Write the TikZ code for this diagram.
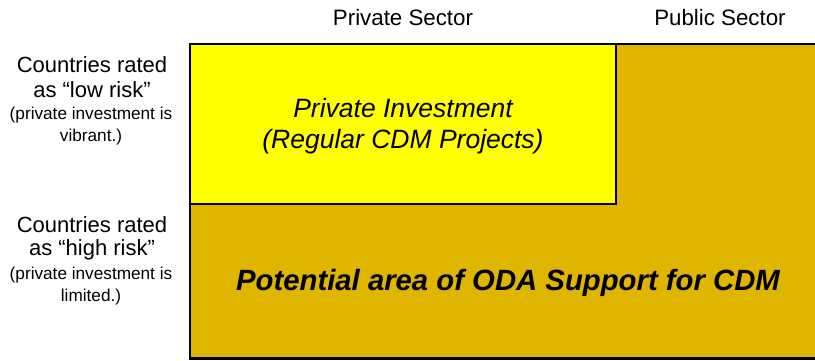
\documentclass[tikz,border=0pt]{standalone}
\usepackage{fontspec}
\setmainfont{Liberation Sans}
\definecolor{golden}{RGB}{223,181,0}
\definecolor{brightyellow}{RGB}{255,255,0}
\tikzset{
  area/.style={draw=black, line width=2.4pt, inner sep=0pt, outer sep=0pt},
  head/.style={font=\fontsize{22.3}{26}\selectfont, inner sep=0pt},
  side/.style={align=center, inner sep=0pt},
  big/.style={font=\fontsize{22}{25}\selectfont},
  small/.style={font=\fontsize{17.2}{20}\selectfont},
}
\begin{document}
\begin{tikzpicture}[x=1pt,y=-1pt]
\useasboundingbox (0,0) rectangle (815,360);
\path[fill=white] (0,0) rectangle (815,360);
% dark gold area
\draw[area, fill=golden] (190,44) rectangle (818,358.5);
\coordinate (goldNW) at (190,44);
% yellow area
\node[area, fill=brightyellow, minimum width=426pt, minimum height=160pt, anchor=north west] (private) at (190,44) {};
% headings
\node[head] (hpriv) at (403,18) {Private Sector};
\node[head] (hpub) at (720,18) {Public Sector};
% left labels
\node[big, side] (l1) at (92,65) {Countries rated};
\node[big, side] (l2) at (92,90) {as “low risk”};
\node[small, side] (l3) at (91,115) {(private investment is};
\node[small, side] (l4) at (91,137) {vibrant.)};
\node[big, side] (h1) at (92,225) {Countries rated};
\node[big, side] (h2) at (92,250) {as “high risk”};
\node[small, side] (h3) at (91,275) {(private investment is};
\node[small, side] (h4) at (91,297) {limited.)};
% inner texts
\node[font=\fontsize{26.5}{30}\selectfont\itshape, inner sep=0pt] (pi1) at (403,108) {Private Investment};
\node[font=\fontsize{26.5}{30}\selectfont\itshape, inner sep=0pt] (pi2) at (403,142) {(Regular CDM Projects)};
\node[font=\fontsize{29.3}{33}\selectfont\bfseries\itshape, inner sep=0pt] (oda) at (508,283) {Potential area of ODA Support for CDM};
\end{tikzpicture}
\end{document}
